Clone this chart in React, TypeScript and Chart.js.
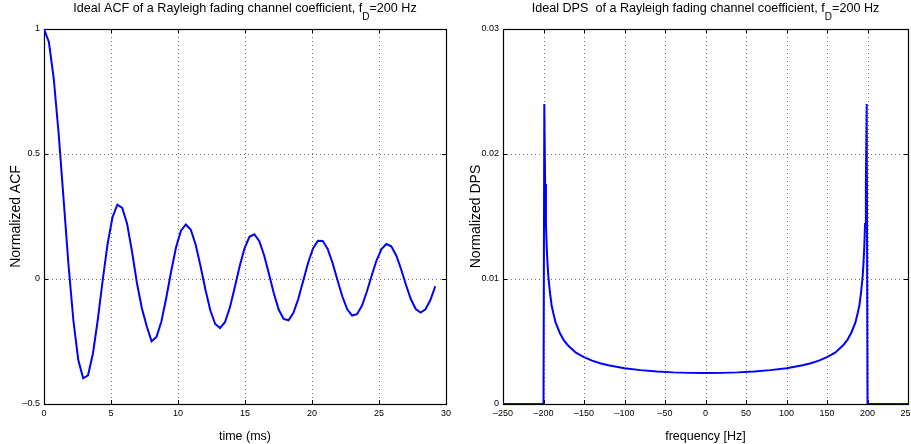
import React, { useEffect, useRef } from "react";
import { Chart, registerables } from "chart.js";

Chart.register(...registerables);

const FONT = "'Liberation Sans', Arial, Helvetica, sans-serif";

// ---------- Left panel: ideal ACF ----------
const timeMs = [
  0, 0.365, 0.73, 1.095, 1.46, 1.825, 2.19, 2.555, 2.92, 3.285, 3.65, 4.015, 4.38, 4.745, 5.11,
  5.475, 5.84, 6.205, 6.57, 6.935, 7.3, 7.665, 8.03, 8.395, 8.76, 9.125, 9.49, 9.855, 10.22,
  10.585, 10.95, 11.315, 11.68, 12.045, 12.41, 12.775, 13.14, 13.505, 13.87, 14.235, 14.6,
  14.965, 15.33, 15.695, 16.06, 16.425, 16.79, 17.155, 17.52, 17.885, 18.25, 18.615, 18.98,
  19.345, 19.71, 20.075, 20.44, 20.805, 21.17, 21.535, 21.9, 22.265, 22.63, 22.995, 23.36,
  23.725, 24.09, 24.455, 24.82, 25.185, 25.55, 25.915, 26.28, 26.645, 27.01, 27.375, 27.74,
  28.105, 28.47, 28.835, 29.2,
];
const acfValues = [
  1, 0.948, 0.8, 0.58, 0.32, 0.059, -0.164, -0.323, -0.397, -0.385, -0.299,
  -0.163, -0.005, 0.14, 0.247, 0.297, 0.284, 0.22, 0.109, -0.016, -0.116,
  -0.189, -0.249, -0.232, -0.17, -0.075, 0.031, 0.127, 0.193, 0.218, 0.198,
  0.138, 0.052, -0.042, -0.125, -0.18, -0.196, -0.173, -0.114, -0.034, 0.051,
  0.123, 0.169, 0.179, 0.152, 0.095, 0.02, -0.058, -0.123, -0.16, -0.165,
  -0.135, -0.079, -0.007, 0.065, 0.122, 0.153, 0.152, 0.12, 0.064, -0.004,
  -0.07, -0.121, -0.146, -0.141, -0.107, -0.051, 0.014, 0.075, 0.12, 0.14,
  0.131, 0.095, 0.04, -0.023, -0.08, -0.12, -0.134, -0.121, -0.084, -0.029,
];
const acfTimeTicks = [0, 5, 10, 15, 20, 25, 30];
const acfValueTicks = [-0.5, 0, 0.5, 1];
const acfTitle = ["Ideal ACF of a Rayleigh fading channel coefficient, f", "D", "=200 Hz"];

// ---------- Right panel: ideal DPS ----------
const freqHz = [
  -250, -200, -199, -198, -197, -196, -195, -194, -192, -190, -188, -185, -180, -175, -170,
  -160, -150, -140, -130, -120, -100, -80, -60, -40, -20, 0, 20, 40, 60, 80, 100, 120, 130,
  140, 150, 160, 170, 175, 180, 185, 188, 190, 192, 194, 195, 196, 197, 198, 199, 200, 250,
];
const dpsValues = [
  0, 0, 0.024, 0.0176, 0.0144, 0.0125, 0.0112, 0.0102, 0.0089, 0.0079, 0.0073, 0.0065, 0.0057,
  0.0051, 0.0047, 0.0041, 0.00375, 0.00347, 0.00326, 0.0031, 0.00286, 0.00271, 0.0026, 0.00253,
  0.00249, 0.00248, 0.00249, 0.00253, 0.0026, 0.00271, 0.00286, 0.0031, 0.00326, 0.00347,
  0.00375, 0.0041, 0.0047, 0.0051, 0.0057, 0.0065, 0.0073, 0.0079, 0.0089, 0.0102, 0.0112,
  0.0125, 0.0144, 0.0176, 0.024, 0, 0,
];
const dpsFreqTicks = [-250, -200, -150, -100, -50, 0, 50, 100, 150, 200, 250];
const dpsValueTicks = [0, 0.01, 0.02, 0.03];
const dpsTitle = ["Ideal DPS  of a Rayleigh fading channel coefficient, f", "D", "=200 Hz"];

const fmt = (v: number) => String(v).replace("-", "\u2013");

const matlabAxesPlugin = {
  id: "matlabAxes",
  beforeDatasetsDraw(chart: any, _args: any, opts: any) {
    const { ctx, chartArea: a } = chart;
    const xs = chart.scales.x;
    const ys = chart.scales.y;
    const L = Math.round(a.left), R = Math.round(a.right);
    const T = Math.round(a.top), B = Math.round(a.bottom);
    ctx.save();
    // dotted grid
    ctx.strokeStyle = "rgba(0,0,0,0.55)";
    ctx.lineWidth = 1;
    ctx.setLineDash([1, 3]);
    ctx.beginPath();
    for (const v of opts.xTicks) {
      if (v <= xs.min || v >= xs.max) continue;
      const px = Math.round(xs.getPixelForValue(v)) + 0.5;
      ctx.moveTo(px, T);
      ctx.lineTo(px, B);
    }
    for (const v of opts.yTicks) {
      if (v <= ys.min || v >= ys.max) continue;
      const py = Math.round(ys.getPixelForValue(v)) + 0.5;
      ctx.moveTo(L, py);
      ctx.lineTo(R, py);
    }
    ctx.stroke();
    ctx.setLineDash([]);
    // inward ticks
    ctx.strokeStyle = "#000";
    ctx.beginPath();
    const tl = 4;
    for (const v of opts.xTicks) {
      const px = Math.round(xs.getPixelForValue(v)) + 0.5;
      ctx.moveTo(px, B);
      ctx.lineTo(px, B - tl);
      ctx.moveTo(px, T);
      ctx.lineTo(px, T + tl);
    }
    for (const v of opts.yTicks) {
      const py = Math.round(ys.getPixelForValue(v)) + 0.5;
      ctx.moveTo(L, py);
      ctx.lineTo(L + tl, py);
      ctx.moveTo(R, py);
      ctx.lineTo(R - tl, py);
    }
    ctx.stroke();
    // box
    ctx.lineWidth = 1.2;
    ctx.strokeRect(L + 0.5, T + 0.5, R - L, B - T);
    ctx.restore();
  },
  afterDraw(chart: any, _args: any, opts: any) {
    const { ctx, chartArea: a } = chart;
    const [main, sub, tail] = opts.title;
    ctx.save();
    ctx.fillStyle = "#000";
    ctx.textBaseline = "alphabetic";
    ctx.textAlign = "left";
    const mainFont = `12.6px ${FONT}`;
    const subFont = `10px ${FONT}`;
    ctx.font = mainFont;
    const w1 = ctx.measureText(main).width;
    const w3 = ctx.measureText(tail).width;
    ctx.font = subFont;
    const w2 = ctx.measureText(sub).width;
    const cx = (a.left + a.right) / 2;
    let x = cx - (w1 + w2 + w3) / 2;
    ctx.font = mainFont;
    ctx.fillText(main, x, 12);
    x += w1;
    ctx.font = subFont;
    ctx.fillText(sub, x, 19.5);
    x += w2;
    ctx.font = mainFont;
    ctx.fillText(tail, x, 12);
    ctx.restore();
  },
};

function buildConfig(o: any): any {
  return {
    type: "line",
    data: {
      datasets: [
        {
          data: o.xs.map((x: number, i: number) => ({ x, y: o.ys[i] })),
          borderColor: "#0000ff",
          borderWidth: 2,
          pointRadius: 0,
          tension: 0,
          fill: false,
        },
      ],
    },
    options: {
      responsive: false,
      animation: false,
      devicePixelRatio: 1,
      layout: { padding: { left: 0, top: 29, right: o.padRight, bottom: 0 } },
      plugins: {
        legend: { display: false },
        tooltip: { enabled: false },
        title: { display: false },
        matlabAxes: { xTicks: o.xTicks, yTicks: o.yTicks, title: o.title },
      },
      scales: {
        x: {
          type: "linear",
          min: o.xMin,
          max: o.xMax,
          afterBuildTicks: (s: any) => {
            s.ticks = o.xTicks.map((v: number) => ({ value: v }));
          },
          afterFit: (s: any) => {
            s.height = 40;
          },
          grid: { display: false, drawTicks: false },
          border: { display: false },
          ticks: {
            autoSkip: false,
            maxRotation: 0,
            padding: 4,
            color: "#000",
            font: { family: FONT, size: 9 },
            callback: (v: number) => fmt(v),
          },
          title: {
            display: true,
            text: o.xTitle,
            color: "#000",
            font: { family: FONT, size: 12.5 },
            padding: { top: 0, bottom: 0 },
          },
        },
        y: {
          type: "linear",
          min: o.yMin,
          max: o.yMax,
          afterBuildTicks: (s: any) => {
            s.ticks = o.yTicks.map((v: number) => ({ value: v }));
          },
          afterFit: (s: any) => {
            s.width = o.yAxisWidth;
          },
          grid: { display: false, drawTicks: false },
          border: { display: false },
          ticks: {
            autoSkip: false,
            padding: 4,
            color: "#000",
            font: { family: FONT, size: 9 },
            callback: (v: number) => fmt(v),
          },
          title: {
            display: true,
            text: o.yTitle,
            color: "#000",
            font: { family: FONT, size: 14 },
            padding: { top: 7.5, bottom: 0 },
          },
        },
      },
    },
    plugins: [matlabAxesPlugin],
  };
}

export default function App() {
  const leftRef = useRef<HTMLCanvasElement>(null);
  const rightRef = useRef<HTMLCanvasElement>(null);

  useEffect(() => {
    const c1 = new Chart(
      leftRef.current as HTMLCanvasElement,
      buildConfig({
        xs: timeMs,
        ys: acfValues,
        xTicks: acfTimeTicks,
        yTicks: acfValueTicks,
        xMin: 0,
        xMax: 30,
        yMin: -0.5,
        yMax: 1,
        xTitle: "time (ms)",
        yTitle: "Normalized ACF",
        title: acfTitle,
        yAxisWidth: 44,
        padRight: 6,
      })
    );
    const c2 = new Chart(
      rightRef.current as HTMLCanvasElement,
      buildConfig({
        xs: freqHz,
        ys: dpsValues,
        xTicks: dpsFreqTicks,
        yTicks: dpsValueTicks,
        xMin: -250,
        xMax: 250,
        yMin: 0,
        yMax: 0.03,
        xTitle: "frequency [Hz]",
        yTitle: "Normalized DPS",
        title: dpsTitle,
        yAxisWidth: 43,
        padRight: 12,
      })
    );
    return () => {
      c1.destroy();
      c2.destroy();
    };
  }, []);

  return (
    <div
      style={{
        position: "absolute",
        left: 0,
        top: 0,
        width: 911,
        height: 444,
        overflow: "hidden",
        background: "#fff",
      }}
    >
      <canvas
        ref={leftRef}
        width={455}
        height={444}
        style={{ position: "absolute", left: 0, top: 0, width: 455, height: 444 }}
      />
      <canvas
        ref={rightRef}
        width={460}
        height={444}
        style={{ position: "absolute", left: 460, top: 0, width: 460, height: 444 }}
      />
    </div>
  );
}
